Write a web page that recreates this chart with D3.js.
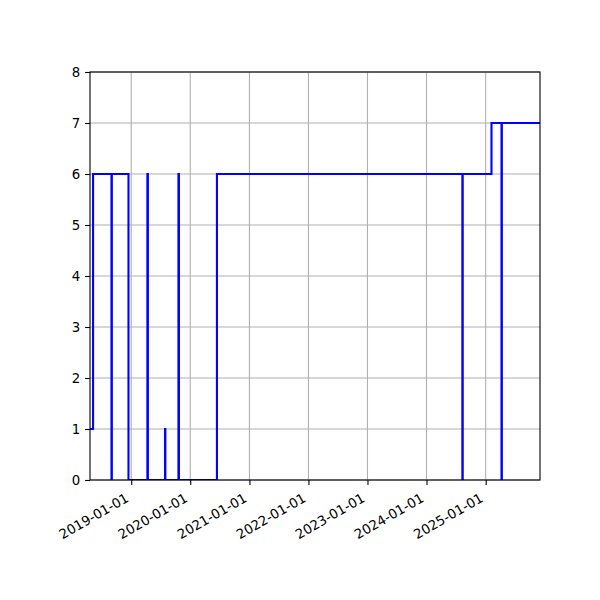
<!DOCTYPE html>
<html>
<head>
<meta charset="utf-8">
<script src="https://cdn.jsdelivr.net/npm/d3@7"></script>
<style>
  body { margin: 0; background: #fff; }
  text { font-family: "DejaVu Sans", sans-serif; font-size: 13.33px; fill: #000; }
</style>
</head>
<body>
<svg id="chart" width="600" height="600"></svg>
<script>
// -- DATA --
const dates = ["2018-04-21", "2018-05-10", "2018-09-01", "2018-09-03", "2018-12-15",
    "2019-04-11", "2019-04-14", "2019-07-29", "2019-07-31", "2019-10-20", "2019-10-23",
    "2020-06-14", "2024-08-10", "2024-08-12", "2025-02-06", "2025-04-09", "2025-04-11",
    "2025-12-03"];
const values = [1, 6, 0, 6, 0, 6, 0, 1, 0, 6, 0, 6, 0, 6, 7, 0, 7, 7];
const xTicks = ["2019-01-01", "2020-01-01", "2021-01-01", "2022-01-01",
    "2023-01-01", "2024-01-01", "2025-01-01"];
const yTicks = [0, 1, 2, 3, 4, 5, 6, 7, 8];

const parse = d3.timeParse("%Y-%m-%d");
const data = dates.map((d, i) => ({ date: parse(d), value: values[i] }));

// -- LAYOUT --
const pLeft = 90, pRight = 540, pTop = 72, pBottom = 480;
const svg = d3.select("#chart");
svg.append("rect").attr("width", 600).attr("height", 600).attr("fill", "#fff");

const x = d3.scaleTime()
    .domain(d3.extent(data, d => d.date))
    .range([pLeft, pRight]);
const y = d3.scaleLinear().domain([0, 8]).range([pBottom, pTop]);

// -- GRID --
const grid = svg.append("g").attr("stroke", "#b0b0b0").attr("stroke-width", 1.1);
grid.selectAll(".gx").data(xTicks).enter().append("line")
    .attr("x1", d => x(parse(d))).attr("x2", d => x(parse(d)))
    .attr("y1", pTop).attr("y2", pBottom);
grid.selectAll(".gy").data(yTicks).enter().append("line")
    .attr("x1", pLeft).attr("x2", pRight)
    .attr("y1", d => y(d)).attr("y2", d => y(d));

// -- LINE --
svg.append("clipPath").attr("id", "clip")
    .append("rect").attr("x", pLeft).attr("y", pTop)
    .attr("width", pRight - pLeft).attr("height", pBottom - pTop);

const line = d3.line()
    .x(d => x(d.date))
    .y(d => y(d.value))
    .curve(d3.curveStepAfter);

svg.append("path")
    .datum(data)
    .attr("clip-path", "url(#clip)")
    .attr("fill", "none")
    .attr("stroke", "#0000ff")
    .attr("stroke-width", 2.1)
    .attr("d", line);

// -- AXES --
const yAxis = svg.append("g")
    .attr("transform", `translate(${pLeft},0)`)
    .call(d3.axisLeft(y).tickValues(yTicks).tickSize(4.9).tickPadding(4.9).tickFormat(d3.format("d")));

const xAxis = svg.append("g")
    .attr("transform", `translate(0,${pBottom})`)
    .call(d3.axisBottom(x).tickValues(xTicks.map(parse)).tickSize(4.9).tickFormat(""));

[xAxis, yAxis].forEach(a => {
    a.select(".domain").remove();
    a.selectAll("line").attr("stroke", "#000").attr("stroke-width", 1.1);
});
yAxis.selectAll("text").attr("font-size", null).attr("font-family", null);

// rotated date labels (30 deg, right aligned)
svg.append("g").selectAll("text")
    .data(xTicks)
    .enter().append("text")
    .attr("transform", d => `translate(${x(parse(d))},503.4) rotate(-30)`)
    .attr("text-anchor", "end")
    .attr("y", -3.1)
    .text(d => d);

// spines
svg.append("rect")
    .attr("x", pLeft).attr("y", pTop)
    .attr("width", pRight - pLeft).attr("height", pBottom - pTop)
    .attr("fill", "none").attr("stroke", "#000").attr("stroke-width", 1.1);
</script>
</body>
</html>
